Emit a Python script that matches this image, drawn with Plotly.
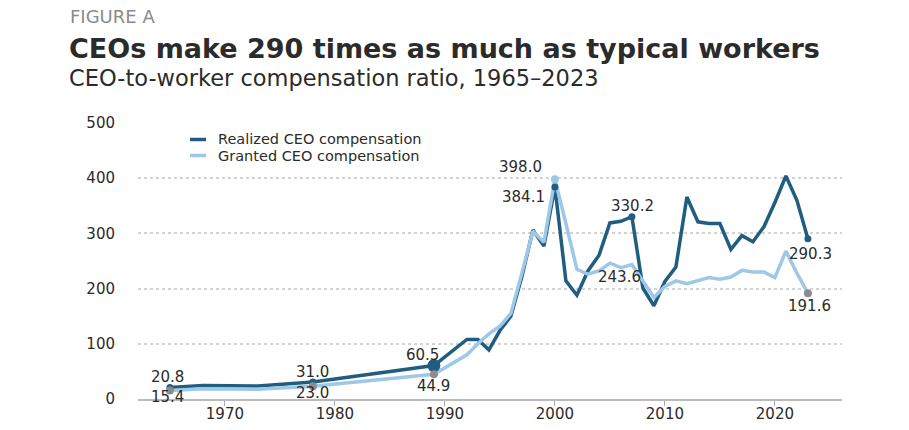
import plotly.graph_objects as go

# ---- data ----
years = [1965, 1968, 1973, 1978, 1989,
         1992, 1993, 1994, 1995, 1996, 1997, 1998, 1999, 2000, 2001,
         2002, 2003, 2004, 2005, 2006, 2007, 2008, 2009, 2010, 2011,
         2012, 2013, 2014, 2015, 2016, 2017, 2018, 2019, 2020, 2021,
         2022, 2023]
realized = [20.8, 24.5, 23.4, 31.0, 60.5,
            108, 108, 89, 124, 150, 222, 306, 277, 384.1, 214,
            188, 232, 260, 319, 322, 330.2, 201, 169, 213, 239,
            366, 321, 318, 318, 271, 296, 285, 312, 356, 404,
            360, 290.3]
granted = [15.4, 18.5, 17.5, 23.0, 44.9,
           80, 100, 118, 132, 155, 228, 304, 284, 398.0, 318,
           235, 226, 232, 246, 238, 243.6, 214, 184, 204, 214,
           209, 214, 220, 217, 221, 233, 230, 230, 220, 268,
           228, 191.6]
series_names = ["Realized CEO compensation", "Granted CEO compensation"]
x_ticks = [1970, 1980, 1990, 2000, 2010, 2020]
y_ticks = [0, 100, 200, 300, 400, 500]

# labelled points: (year, xshift, yshift)
realized_labels = [(1965, -2, 11), (1978, 0, 10), (1989, -11, 11),
                   (2000, -31, -10), (2007, 1, 11), (2023, 3, -15)]
granted_labels = [(1965, -2, -6), (1978, 0, -7), (1989, 0, -12),
                  (2000, -34, 12), (2007, -12, -12), (2023, 2, -13)]

DARK = "#215d80"
LIGHT = "#9dc8e8"
GRAY = "#8c8c8c"
TXT = "#2b2b2b"
FONT = "DejaVu Sans"

r_map = dict(zip(years, realized))
g_map = dict(zip(years, granted))

fig = go.Figure()
fig.add_trace(go.Scatter(x=years, y=realized, mode="lines", name=series_names[0],
                         line=dict(color=DARK, width=3.5), hoverinfo="skip"))
fig.add_trace(go.Scatter(x=years, y=granted, mode="lines", name=series_names[1],
                         line=dict(color=LIGHT, width=3.5), hoverinfo="skip"))

# markers
r_mark_years = [1965, 1978, 2000, 2007, 2023]
fig.add_trace(go.Scatter(x=r_mark_years, y=[r_map[y] for y in r_mark_years], mode="markers",
                         marker=dict(color=DARK, size=7), showlegend=False, hoverinfo="skip"))
fig.add_trace(go.Scatter(x=[1989], y=[r_map[1989]], mode="markers",
                         marker=dict(color=DARK, size=13), showlegend=False, hoverinfo="skip"))
fig.add_trace(go.Scatter(x=[2000], y=[g_map[2000]], mode="markers",
                         marker=dict(color=LIGHT, size=8), showlegend=False, hoverinfo="skip"))
g_mark_years = [1965, 1978, 1989, 2023]
fig.add_trace(go.Scatter(x=g_mark_years, y=[g_map[y] for y in g_mark_years], mode="markers",
                         marker=dict(color=GRAY, size=8), showlegend=False, hoverinfo="skip"))

LBL = 15
annotations = []
for yr, dx, dy in realized_labels:
    annotations.append(dict(x=yr, y=r_map[yr], text=f"{r_map[yr]:.1f}", showarrow=False,
                            xshift=dx, yshift=dy, font=dict(family=FONT, size=LBL, color=TXT)))
for yr, dx, dy in granted_labels:
    annotations.append(dict(x=yr, y=g_map[yr], text=f"{g_map[yr]:.1f}", showarrow=False,
                            xshift=dx, yshift=dy, font=dict(family=FONT, size=LBL, color=TXT)))

# plot area: x 138..842 px, y 123..399 px
PW, PH = 704.0, 276.0
def px(xp):
    return (xp - 138) / PW
def py(yp):
    return (399 - yp) / PH

annotations += [
    dict(xref="paper", yref="paper", x=px(68), y=py(16), xanchor="left", yanchor="middle",
         text="FIGURE A", showarrow=False, font=dict(family=FONT, size=18, color="#8a8a8a")),
    dict(xref="paper", yref="paper", x=px(67), y=py(49), xanchor="left", yanchor="middle",
         text="<b>CEOs make 290 times as much as typical workers</b>", showarrow=False,
         font=dict(family=FONT, size=27, color=TXT)),
    dict(xref="paper", yref="paper", x=px(67), y=py(78), xanchor="left", yanchor="middle",
         text="CEO-to-worker compensation ratio, 1965\u20132023", showarrow=False,
         font=dict(family=FONT, size=22.5, color=TXT)),
    dict(xref="paper", yref="paper", x=px(216), y=py(139), xanchor="left", yanchor="middle",
         text=series_names[0], showarrow=False, font=dict(family=FONT, size=14.5, color=TXT)),
    dict(xref="paper", yref="paper", x=px(216), y=py(156), xanchor="left", yanchor="middle",
         text=series_names[1], showarrow=False, font=dict(family=FONT, size=14.5, color=TXT)),
]

shapes = [
    dict(type="line", xref="paper", yref="paper", x0=px(190), x1=px(206), y0=py(139.5), y1=py(139.5),
         line=dict(color=DARK, width=3.5)),
    dict(type="line", xref="paper", yref="paper", x0=px(190), x1=px(206), y0=py(155.5), y1=py(155.5),
         line=dict(color=LIGHT, width=3.5)),
]

fig.update_layout(
    width=909, height=430,
    margin=dict(l=138, r=67, t=123, b=31),
    paper_bgcolor="white", plot_bgcolor="white",
    showlegend=False,
    annotations=annotations, shapes=shapes,
    font=dict(family=FONT, color=TXT),
)
fig.update_xaxes(range=[1962.1, 2026.1], tickvals=x_ticks, ticks="outside", ticklen=5,
                 tickcolor="#aaaaaa", tickwidth=1, showline=True, linecolor="#bbbbbb", linewidth=1.5,
                 showgrid=False, zeroline=False, automargin=False, ticklabelstandoff=-5,
                 tickfont=dict(family=FONT, size=15, color=TXT))
fig.update_yaxes(range=[0, 500], tickvals=y_ticks, showgrid=True, gridcolor="#d3d3d3",
                 griddash="dot", gridwidth=1.5, zeroline=False, showline=False, ticks="",
                 automargin=False, ticklabelstandoff=22,
                 tickfont=dict(family=FONT, size=15, color=TXT))

fig.write_html("out.html", config={"responsive": False, "displayModeBar": False},
               post_script="document.body.style.margin='0px';document.body.style.overflow='hidden';")
